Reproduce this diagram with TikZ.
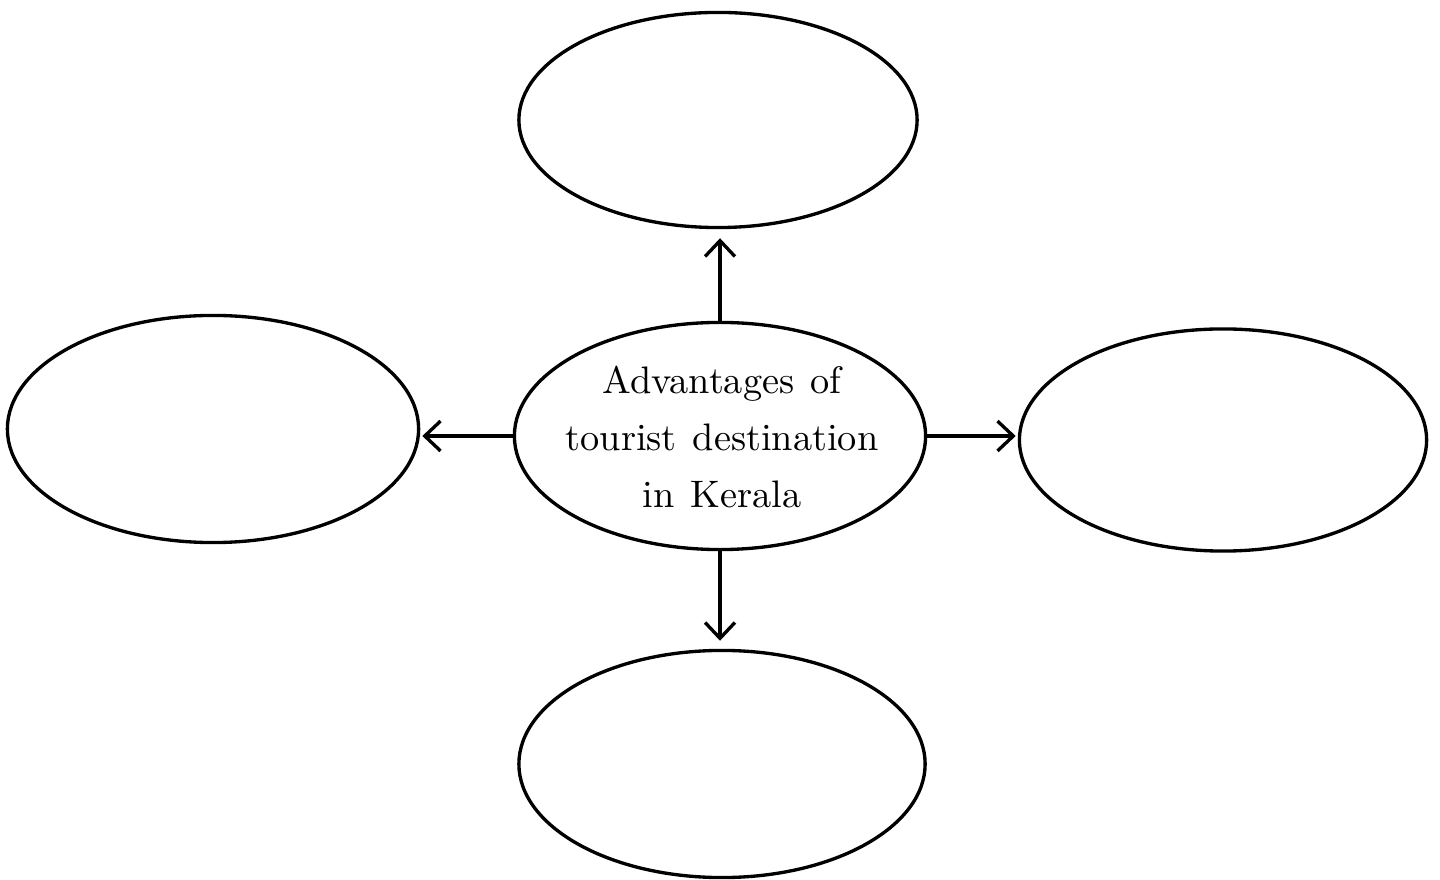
\documentclass[tikz,border=0pt]{standalone}
\usetikzlibrary{shapes.geometric,arrows.meta}
\newcommand{\widesp}{\spaceskip=4.6pt plus 1pt\relax}
\begin{document}
\begin{tikzpicture}[x=0.01cm,y=-0.01cm,
  oval/.style={draw,ellipse,line width=0.95pt,inner sep=0pt},
  arr/.style={line width=0.95pt,-{Straight Barb[length=4.5pt,width=8.5pt,line width=0.95pt]}},
  lbl/.style={align=center,inner sep=0pt,font=\fontsize{10.9}{16.2}\selectfont\widesp}]
\useasboundingbox (0,0) rectangle (1440,880);
\node[oval,minimum width=3.98cm,minimum height=2.15cm] (t) at (718,120) {};
\node[oval,minimum width=4.11cm,minimum height=2.27cm] (l) at (213,429) {};
\node[oval,minimum width=4.07cm,minimum height=2.22cm] (r) at (1223,440) {};
\node[oval,minimum width=4.06cm,minimum height=2.27cm] (b) at (722,764) {};
\node[oval,minimum width=4.11cm,minimum height=2.27cm] (c) at (720,436) {};
\node[lbl] (ct) at (722,437) {Advantages of\\tourist destination\\in Kerala};
\draw[arr,shorten >=0.09cm] (c.north) -- (c.north |- t.south);
\draw[arr,shorten >=0.08cm] (c.south) -- (c.south |- b.north);
\draw[arr,shorten >=0.02cm] (c.west) -- (c.west -| l.east);
\draw[arr,shorten >=0.02cm] (c.east) -- (c.east -| r.west);
\end{tikzpicture}
\end{document}
